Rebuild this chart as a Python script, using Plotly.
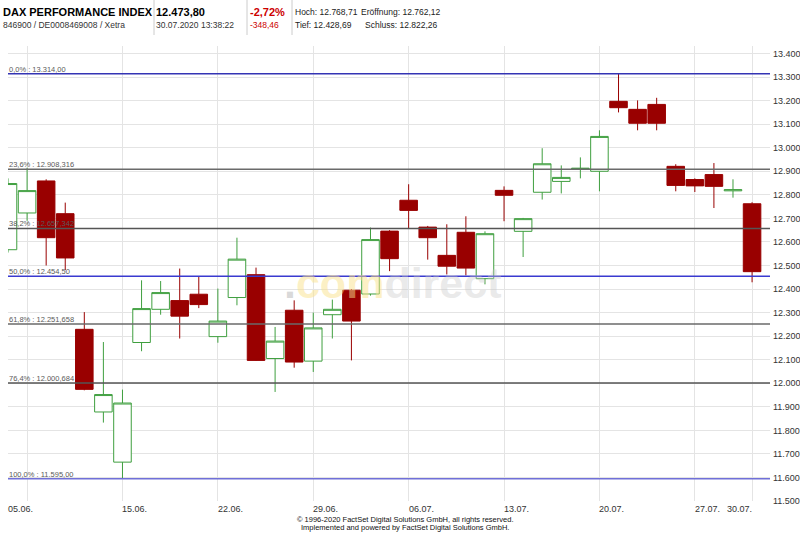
import plotly.graph_objects as go

# ---------------- data ----------------
dates = ["2020-06-05", "2020-06-08", "2020-06-09", "2020-06-10", "2020-06-11", "2020-06-12",
         "2020-06-15", "2020-06-16", "2020-06-17", "2020-06-18", "2020-06-19",
         "2020-06-22", "2020-06-23", "2020-06-24", "2020-06-25", "2020-06-26",
         "2020-06-29", "2020-06-30", "2020-07-01", "2020-07-02", "2020-07-03",
         "2020-07-06", "2020-07-07", "2020-07-08", "2020-07-09", "2020-07-10",
         "2020-07-13", "2020-07-14", "2020-07-15", "2020-07-16", "2020-07-17",
         "2020-07-20", "2020-07-21", "2020-07-22", "2020-07-23", "2020-07-24",
         "2020-07-27", "2020-07-28", "2020-07-29", "2020-07-30"]

open_ = [12567, 12723, 12859, 12720, 12229, 11878, 11665, 12173, 12314, 12351, 12378,
         12198, 12364, 12461, 12105, 12310, 12094, 12291, 12395, 12379, 12646,
         12777, 12663, 12543, 12641, 12444, 12819, 12645, 12811, 12857, 12908,
         12900, 13197, 13163, 13184, 12921, 12865, 12886, 12817, 12762.12]
high = [12870, 12915, 12866, 12767, 12302, 12175, 11973, 12437, 12434, 12487, 12451,
        12402, 12618, 12491, 12239, 12352, 12300, 12355, 12400, 12661, 12650,
        12845, 12668, 12675, 12709, 12645, 12836, 12702, 12998, 12925, 12959,
        13074, 13314, 13201, 13212, 12930, 12870, 12935, 12866, 12768.71]
low = [12555, 12690, 12500, 12480, 11970, 11833, 11595, 12136, 12291, 12190, 12319,
       12172, 12331, 12095, 11963, 12066, 12048, 12190, 12097, 12372, 12476,
       12657, 12525, 12462, 12458, 12420, 12688, 12536, 12780, 12806, 12870,
       12815, 13150, 13074, 13074, 12815, 12812, 12744, 12788, 12428.69]
close = [12848, 12818, 12618, 12532, 11974, 11952, 11916, 12317, 12385, 12285, 12334,
         12264, 12527, 12097, 12179, 12090, 12235, 12314, 12264, 12610, 12529,
         12734, 12618, 12497, 12489, 12635, 12798, 12699, 12932, 12874, 12913,
         13048, 13170, 13104, 13104, 12840, 12838, 12836, 12822, 12473.80]

# Fibonacci retracement levels
fib_values = [13314.0, 12908.316, 12657.342, 12454.50, 12251.658, 12000.684, 11595.0]
fib_labels = ["0,0% : 13.314,00", "23,6% : 12.908,316", "38,2% : 12.657,342", "50,0% : 12.454,50",
              "61,8% : 12.251,658", "76,4% : 12.000,684", "100,0% : 11.595,00"]
fib_colors = ["#3434b4", "#6a6a6a", "#555555", "#3a3ad0", "#6a6a6a", "#555555", "#7070d8"]

# x-axis: grid positions and labels
grid_dates = ["2020-06-08", "2020-06-15", "2020-06-22", "2020-06-29", "2020-07-06",
              "2020-07-13", "2020-07-20", "2020-07-27", "2020-07-30"]
xlabel_dates = ["2020-06-05", "2020-06-15", "2020-06-22", "2020-06-29", "2020-07-06",
                "2020-07-13", "2020-07-20", "2020-07-27", "2020-07-30"]
xlabel_texts = ["05.06.", "15.06.", "22.06.", "29.06.", "06.07.", "13.07.", "20.07.", "27.07.", "30.07."]

FONT = "Liberation Sans, Arial, sans-serif"
W, H = 800, 533
L, R, T, B = 8, 30, 46, 32
PW, PH = W - L - R, H - T - B


def px_x(px):
    return (px - L) / PW


def px_y(py):
    return (H - B - py) / PH


fig = go.Figure()
fig.add_trace(go.Candlestick(
    x=dates, open=open_, high=high, low=low, close=close,
    increasing=dict(line=dict(color="#3f9f3f", width=1), fillcolor="#ffffff"),
    decreasing=dict(line=dict(color="#990000", width=1), fillcolor="#990000"),
    whiskerwidth=0, hoverinfo="skip", showlegend=False,
))

shapes = []
annotations = []

# Fibonacci lines and labels
for v, lab, col in zip(fib_values, fib_labels, fib_colors):
    shapes.append(dict(type="line", xref="paper", x0=0, x1=1, yref="y", y0=v, y1=v,
                       line=dict(color=col, width=1.5), layer="above"))
    annotations.append(dict(text=lab, xref="paper", x=0, yref="y", y=v, xanchor="left",
                            yanchor="bottom", showarrow=False, yshift=-2, xshift=-1,
                            font=dict(family=FONT, size=7.5, color="#5a5a5a")))

# x labels
for d, t in zip(xlabel_dates, xlabel_texts):
    anchor = "right" if t == "30.07." else "left"
    annotations.append(dict(text=t, xref="x", x=d, yref="paper", y=0, xanchor=anchor,
                            yanchor="top", showarrow=False, yshift=-1,
                            xshift=-2 if anchor == "left" else 2,
                            font=dict(family=FONT, size=9, color="#333333")))

# watermark
annotations.append(dict(
    text='<span style="color:rgba(170,170,170,0.45)">.</span>'
         '<span style="color:rgba(250,226,140,0.5)">com</span>'
         '<span style="color:rgba(200,200,200,0.40)">direct</span>',
    xref="paper", x=px_x(392), yref="paper", y=px_y(283), showarrow=False,
    xanchor="center", yanchor="middle",
    font=dict(family=FONT, size=43, color="#dddddd", weight="bold")))


# header texts
def head(text, px, py, size, color="#000000", bold=False, anchor="left"):
    annotations.append(dict(text=("<b>%s</b>" % text) if bold else text, xref="paper", x=px_x(px),
                            yref="paper", y=px_y(py), xanchor=anchor, yanchor="middle",
                            showarrow=False, font=dict(family=FONT, size=size, color=color)))


head("DAX PERFORMANCE INDEX", 1, 12, 11, bold=True)
head("846900 / DE0008469008 / Xetra", 1, 25, 8.5, color="#333333")
head("12.473,80", 154, 12, 11, bold=True)
head("30.07.2020 13:38:22", 154, 25, 8.5, color="#333333")
head("-2,72%", 248, 12, 11, color="#cc0000", bold=True)
head("-348,46", 248, 25, 8.5, color="#cc0000")
head("Hoch: 12.768,71", 293, 12, 8.5, color="#222222")
head("Eröffnung: 12.762,12", 359, 12, 8.5, color="#222222")
head("Tief: 12.428,69", 293, 25, 8.5, color="#222222")
head("Schluss: 12.822,26", 363, 25, 8.5, color="#222222")

for sx in [154, 247, 292]:
    shapes.append(dict(type="line", xref="paper", x0=px_x(sx), x1=px_x(sx), yref="paper",
                       y0=px_y(0), y1=px_y(35), line=dict(color="#cccccc", width=1)))

# footer
head('<span style="color:#111111">Implemented and powered by FactSet Digital Solutions GmbH.</span>',
     405, 527, 7.5, color="#111111", anchor="center")
head("© 1996-2020 FactSet Digital Solutions GmbH, all rights reserved.", 405, 519, 7.5,
     color="#111111", anchor="center")

fig.update_layout(
    width=W, height=H, margin=dict(l=L, r=R, t=T, b=B, autoexpand=False),
    paper_bgcolor="white", plot_bgcolor="white",
    separators=",.", boxgap=0.08, boxgroupgap=0, showlegend=False,
    shapes=shapes, annotations=annotations,
    font=dict(family=FONT, size=9.5, color="#333333"),
    xaxis=dict(type="category", range=[0, 39.94], tickmode="array", tickvals=grid_dates,
               showticklabels=False, showgrid=True, gridcolor="#e4e4e4", gridwidth=1,
               zeroline=False, showline=False, ticks="", rangeslider=dict(visible=False),
               fixedrange=True),
    yaxis=dict(side="right", range=[11500, 13432], dtick=100, tick0=11500, tickformat=",d",
               showgrid=True, gridcolor="#e4e4e4", gridwidth=1, zeroline=False, showline=False,
               ticks="", ticklabelstandoff=2,
               tickfont=dict(family=FONT, size=9, color="#333333"), fixedrange=True),
)

fig.write_html("out.html", config={"displayModeBar": False},
               post_script="document.body.style.margin='0px';document.body.style.overflow='hidden';")
